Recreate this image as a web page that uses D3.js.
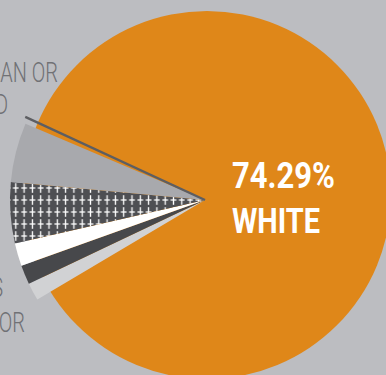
<!DOCTYPE html>
<html>
<head>
<meta charset="utf-8">
<script src="https://cdn.jsdelivr.net/npm/d3@7"></script>
<style>
  html, body { margin: 0; padding: 0; background: #bcbdc1; overflow: hidden; }
  svg { display: block; }
</style>
</head>
<body>
<svg id="chart" width="386" height="375"></svg>
<script>
// Share of the largest group, shown as the big slice
const majorCategory = "WHITE";
const majorValue = 74.29;

// Remaining groups, listed clockwise from the bottom of the fan
const minorCategories = ["Other", "Black or African American", "Asian", "Hispanic or Latino", "Two or more races"];
const minorValues = [2.54, 2.73, 3.26, 8.71, 8.47];

// Partial side labels
const upperLabelLines = ["NATIVE HAWAIIAN OR", "PACIFIC ISLAND"];
const lowerLabelLines = ["TWO OR MORE RACES", "UNKNOWN OR"];

const palette = {
  background: "#bcbdc1",
  major: "#df8719",
  minor: ["#d1d2d4", "#47484b", "#ffffff", "url(#plusHatch)", "#a8a9ad"],
  leader: "#5d5e62",
  label: "#707175"
};

const deg = Math.PI / 180;
const svg = d3.select("#chart");

// Plus-sign texture for the hatched slice
const defs = svg.append("defs");
const pat = defs.append("pattern")
  .attr("id", "plusHatch")
  .attr("patternUnits", "userSpaceOnUse")
  .attr("x", 14.15).attr("y", 198)
  .attr("width", 8.3).attr("height", 12);
pat.append("rect").attr("width", 8.3).attr("height", 12).attr("fill", "#4e4f53");
pat.append("rect").attr("x", 3.5).attr("y", 1.2).attr("width", 1.3).attr("height", 9.6).attr("fill", "#ffffff");
pat.append("rect").attr("x", 1.3).attr("y", 5.35).attr("width", 5.7).attr("height", 1.3).attr("fill", "#ffffff");

// Big slice: a full disc sitting behind the fan of smaller groups
const majorArc = d3.arc().innerRadius(0).outerRadius(184);
svg.append("path")
  .attr("transform", "translate(207,195)")
  .attr("d", majorArc({ startAngle: 0, endAngle: 2 * Math.PI }))
  .attr("fill", palette.major);

// Fan of smaller groups, spread over a fixed window on the left
const fan = svg.append("g").attr("transform", "translate(205,200)");
const pie = d3.pie().sort(null).startAngle(239.3 * deg).endAngle(293 * deg);
const minorArc = d3.arc().innerRadius(0).outerRadius(195);
fan.selectAll("path.minor")
  .data(pie(minorValues))
  .join("path")
  .attr("class", "minor")
  .attr("d", minorArc)
  .attr("fill", (d, i) => palette.minor[i]);

// Leader line for the tiniest group
const tip = d3.pointRadial(294.8 * deg, 198);
fan.append("line")
  .attr("x1", 0).attr("y1", 0)
  .attr("x2", tip[0]).attr("y2", tip[1])
  .attr("stroke", palette.leader)
  .attr("stroke-width", 2.4);

// Value label on the big slice
svg.append("text")
  .attr("x", 232).attr("y", 188)
  .attr("fill", "#ffffff")
  .attr("font-family", "Roboto, 'DejaVu Sans Condensed', sans-serif")
  .attr("font-weight", 700)
  .attr("font-size", 36)
  .attr("textLength", 103)
  .attr("lengthAdjust", "spacingAndGlyphs")
  .text(majorValue.toFixed(2) + "%");
svg.append("text")
  .attr("x", 232).attr("y", 233)
  .attr("fill", "#ffffff")
  .attr("font-family", "Roboto, 'DejaVu Sans Condensed', sans-serif")
  .attr("font-weight", 700)
  .attr("font-size", 35)
  .attr("textLength", 88)
  .attr("lengthAdjust", "spacingAndGlyphs")
  .text(majorCategory);

// Side labels, right-aligned on their visible ends
function sideLabel(lines, anchors) {
  lines.forEach((t, i) => {
    svg.append("g")
      .attr("transform", `translate(${anchors[i][0]},${anchors[i][1]}) scale(0.74,1)`)
      .append("text")
      .attr("text-anchor", "end")
      .attr("fill", palette.label)
      .attr("font-family", "Roboto, 'Open Sans', sans-serif")
      .attr("font-weight", 300)
      .attr("font-size", 27)
      .text(t);
  });
}
sideLabel(upperLabelLines, [[58, 82], [8, 114]]);
sideLabel(lowerLabelLines, [[3, 297], [25, 332]]);
</script>
</body>
</html>
